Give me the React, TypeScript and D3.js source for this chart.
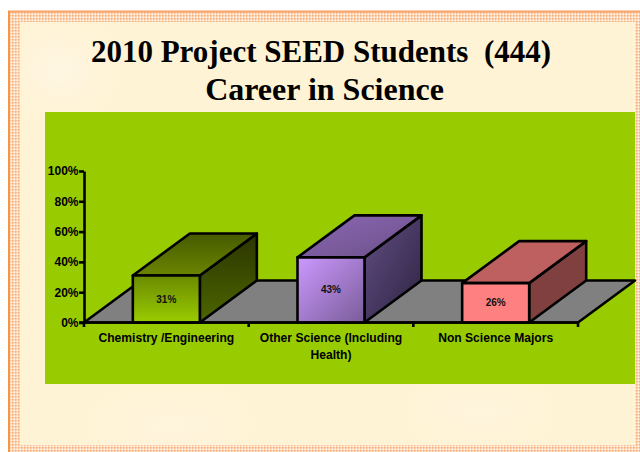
import React, { useEffect, useRef } from 'react';
import * as d3 from 'd3';

// values
const categories = ['Chemistry /Engineering', 'Other Science (Including Health)', 'Non Science Majors'];
const categoryLines = [['Chemistry /Engineering'], ['Other Science (Including', 'Health)'], ['Non Science Majors']];
const shares = [31, 43, 26];
const shareTicks = [0, 20, 40, 60, 80, 100];
const titleLines = ['2010 Project SEED Students  (444)', 'Career in Science'];
const barIds = ['chem', 'other', 'non'];

const WIDTH = 640;
const HEIGHT = 452;
const DEPTH = { x: 57, y: -42 };
const FONT = '"Liberation Sans", Arial, sans-serif';
const LINE = 2.6;

type Pt = [number, number];

function App() {
  const chartRef = useRef<SVGGElement>(null);

  useEffect(() => {
    const g = d3.select(chartRef.current);
    g.selectAll('*').remove();

    const x = d3.scaleBand<string>()
      .domain(categories)
      .range([84, 578])
      .paddingInner(0.593)
      .paddingOuter(0.2965);
    const y = d3.scaleLinear().domain([0, 100]).range([322.5, 171]);
    const path = d3.line<Pt>().curve(d3.curveLinearClosed);
    const step = x.step();

    // floor
    g.append('path')
      .attr('d', path([
        [x.range()[0], y(0)],
        [x.range()[1], y(0)],
        [x.range()[1] + DEPTH.x, y(0) + DEPTH.y],
        [x.range()[0] + DEPTH.x, y(0) + DEPTH.y],
      ]))
      .attr('fill', '#808080')
      .attr('stroke', '#000')
      .attr('stroke-width', LINE)
      .attr('stroke-linejoin', 'round');

    // bars
    categories.forEach((c, i) => {
      const x0 = x(c)!;
      const x1 = x0 + x.bandwidth();
      const top = y(shares[i]);
      const base = y(0);
      const faces: [string, Pt[]][] = [
        ['side', [[x1, base], [x1 + DEPTH.x, base + DEPTH.y], [x1 + DEPTH.x, top + DEPTH.y], [x1, top]]],
        ['top', [[x0, top], [x1, top], [x1 + DEPTH.x, top + DEPTH.y], [x0 + DEPTH.x, top + DEPTH.y]]],
        ['front', [[x0, base], [x1, base], [x1, top], [x0, top]]],
      ];
      faces.forEach(([name, pts]) => {
        g.append('path')
          .attr('d', path(pts))
          .attr('fill', `url(#${barIds[i]}-${name})`)
          .attr('stroke', '#000')
          .attr('stroke-width', LINE)
          .attr('stroke-linejoin', 'round');
      });
      g.append('text')
        .attr('x', x0 + x.bandwidth() / 2)
        .attr('y', (top + base) / 2 + 3.5)
        .attr('text-anchor', 'middle')
        .attr('font-family', FONT)
        .attr('font-weight', 700)
        .attr('font-size', 10)
        .attr('fill', '#111')
        .text(`${shares[i]}%`);
    });

    // y axis
    const yAxis = g.append('g')
      .attr('transform', 'translate(84,0)')
      .call(d3.axisLeft(y).tickValues(shareTicks).tickFormat(d => `${d}%`).tickSize(5).tickSizeOuter(0));
    yAxis.selectAll('line').attr('stroke', '#000').attr('stroke-width', LINE);
    yAxis.select('.domain').attr('stroke', '#000').attr('stroke-width', LINE);
    yAxis.selectAll('text')
      .attr('font-family', FONT)
      .attr('font-weight', 700)
      .attr('font-size', 12)
      .attr('fill', '#000')
      .attr('x', -5.5);

    // x axis line and separators
    const base = y(0);
    g.append('line')
      .attr('x1', 79).attr('x2', x.range()[1])
      .attr('y1', base).attr('y2', base)
      .attr('stroke', '#000').attr('stroke-width', LINE);
    d3.range(4).forEach(i => {
      const tx = x.range()[0] + i * step;
      g.append('line')
        .attr('x1', tx).attr('x2', tx)
        .attr('y1', base).attr('y2', base + 4.5)
        .attr('stroke', '#000').attr('stroke-width', LINE);
    });

    // category labels
    categories.forEach((c, i) => {
      const t = g.append('text')
        .attr('text-anchor', 'middle')
        .attr('font-family', FONT)
        .attr('font-weight', 700)
        .attr('font-size', 12.1)
        .attr('fill', '#000');
      categoryLines[i].forEach((line, k) => {
        t.append('tspan')
          .attr('x', x(c)! + x.bandwidth() / 2)
          .attr('y', 342 + k * 17)
          .text(line);
      });
    });
  }, []);

  return (
    <svg width={WIDTH} height={HEIGHT} style={{ position: 'absolute', left: 0, top: 0, display: 'block' }}>
      <defs>
        <pattern id="check" width="3" height="3" patternUnits="userSpaceOnUse">
          <rect width="3" height="3" fill="#fcd5b4" />
          <rect width="1.5" height="1.5" fill="#f9b27c" />
          <rect x="1.5" y="1.5" width="1.5" height="1.5" fill="#fff6ee" />
        </pattern>
        <filter id="soft" x="-50%" y="-50%" width="200%" height="200%">
          <feGaussianBlur stdDeviation="16" />
        </filter>

        <linearGradient id="chem-front" x1="0" y1="0" x2="0" y2="1">
          <stop offset="0" stopColor="#6b8a00" />
          <stop offset="1" stopColor="#99cc00" />
        </linearGradient>
        <linearGradient id="chem-top" x1="0" y1="1" x2="0" y2="0">
          <stop offset="0" stopColor="#6b8500" />
          <stop offset="1" stopColor="#465a00" />
        </linearGradient>
        <linearGradient id="chem-side" x1="0" y1="1" x2="0" y2="0">
          <stop offset="0" stopColor="#4d6600" />
          <stop offset="1" stopColor="#2b3500" />
        </linearGradient>

        <linearGradient id="other-front" x1="0" y1="0" x2="1" y2="1">
          <stop offset="0" stopColor="#cc99ff" />
          <stop offset="1" stopColor="#7a5c99" />
        </linearGradient>
        <linearGradient id="other-top" x1="0" y1="0" x2="1" y2="1">
          <stop offset="0" stopColor="#8c68b4" />
          <stop offset="1" stopColor="#6b5088" />
        </linearGradient>
        <linearGradient id="other-side" x1="0" y1="0" x2="1" y2="1">
          <stop offset="0" stopColor="#634d85" />
          <stop offset="1" stopColor="#2c2440" />
        </linearGradient>

        <linearGradient id="non-front" x1="0" y1="0" x2="0" y2="1">
          <stop offset="0" stopColor="#ff8080" />
          <stop offset="1" stopColor="#ff8080" />
        </linearGradient>
        <linearGradient id="non-top" x1="0" y1="0" x2="0" y2="1">
          <stop offset="0" stopColor="#bf6060" />
          <stop offset="1" stopColor="#bf6060" />
        </linearGradient>
        <linearGradient id="non-side" x1="0" y1="0" x2="0" y2="1">
          <stop offset="0" stopColor="#804040" />
          <stop offset="1" stopColor="#804040" />
        </linearGradient>
      </defs>

      {/* slide background */}
      <rect width={WIDTH} height={HEIGHT} fill="#fff" />
      <rect x={8} y={11} width={WIDTH - 8} height={HEIGHT - 11} fill="url(#check)" />
      <rect x={20} y={22} width={615} height={423} fill="#fff3d6" />
      <g filter="url(#soft)" fill="#fff8e8" opacity={0.8}>
        <ellipse cx={60} cy={70} rx={30} ry={25} />
        <ellipse cx={170} cy={425} rx={60} ry={10} />
        <ellipse cx={480} cy={410} rx={50} ry={10} />
      </g>
      <rect x={8} y={445} width={WIDTH - 8} height={7} fill="url(#check)" />
      <rect x={635} y={11} width={5} height={HEIGHT - 11} fill="url(#check)" />
      <rect x={8} y={10.5} width={WIDTH - 8} height={2} fill="#f9a468" />
      <rect x={8} y={11} width={2} height={HEIGHT - 11} fill="#f79646" />

      {/* plot area */}
      <rect x={45} y={112} width={590} height={272} fill="#99cc00" />

      <text textAnchor="middle" fontFamily='"Liberation Serif", serif' fontWeight={700} fill="#000" xmlSpace="preserve">
        <tspan x={321} y={62} fontSize={31}>{titleLines[0]}</tspan>
        <tspan x={324.5} y={100} fontSize={32}>{titleLines[1]}</tspan>
      </text>

      <g ref={chartRef} />
    </svg>
  );
}

export default App;
